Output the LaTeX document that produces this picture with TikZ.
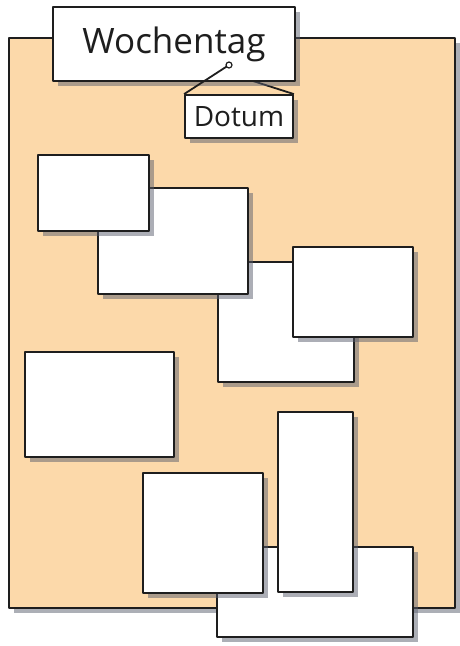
\documentclass[tikz,border=0pt]{standalone}
\usepackage{fontspec}
\setmainfont{Open Sans}
\usepackage{xcolor}
\definecolor{pfirsich}{RGB}{252, 217, 170}
\definecolor{schatten}{RGB}{90, 95, 110}
\definecolor{strich}{RGB}{30, 30, 30}
\usetikzlibrary{positioning,shadows}

\begin{document}
\begin{tikzpicture}[
    x=1pt, y=-1pt,
    line width=1.8pt, line join=round,
    schatten/.style={drop shadow={shadow xshift=5pt, shadow yshift=-5pt,
      fill=schatten, opacity=.5}},
    tafel/.style={rectangle, draw=strich, fill=pfirsich, schatten, inner sep=0pt},
    zettel/.style={rectangle, draw=strich, fill=white, schatten, inner sep=0pt},
    titel/.style={zettel, font=\fontsize{35}{40}\selectfont, text=strich},
    schild/.style={zettel, font=\fontsize{28}{30}\selectfont, text=strich}
  ]
    \useasboundingbox (0,0) rectangle (460,646);
    \node[tafel, minimum width=446pt, minimum height=570pt] (tafel) at (232,323) {};

    % Kopf: Wochentag mit angehaengtem Datum
    \node[schild, minimum width=108pt, minimum height=43pt] (datum) at (239,116.5) {Dotum};
    \coordinate (knick) at (253,81);
    \draw[strich] (knick) -- (datum.north east);
    \node[titel, minimum width=242pt, minimum height=74pt] (wochentag) at (174,44) {Wochentag};
    \coordinate (nagel) at (229,65);
    \draw[strich] (nagel) -- (datum.north west);
    \draw[strich, fill=white, line width=1.2pt] (nagel) circle (3pt);

    % leere Zettel, von hinten nach vorne
    \node[zettel, minimum width=136pt, minimum height=120pt] (z3) at (286,322) {};
    \node[zettel, minimum width=150pt, minimum height=106pt] (z2) at (173,241) {};
    \node[zettel, minimum width=111pt, minimum height=76pt] (z1) at (93.5,193) {};
    \node[zettel, minimum width=120pt, minimum height=90pt] (z4) at (353,292) {};
    \node[zettel, minimum width=149pt, minimum height=105pt] (z5) at (99.5,404.5) {};
    \node[zettel, minimum width=196pt, minimum height=90pt] (z8) at (315,592) {};
    \node[zettel, minimum width=120pt, minimum height=120pt] (z6) at (203,533) {};
    \node[zettel, minimum width=75pt, minimum height=180pt] (z7) at (315.5,502) {};
  \end{tikzpicture}
\end{document}
